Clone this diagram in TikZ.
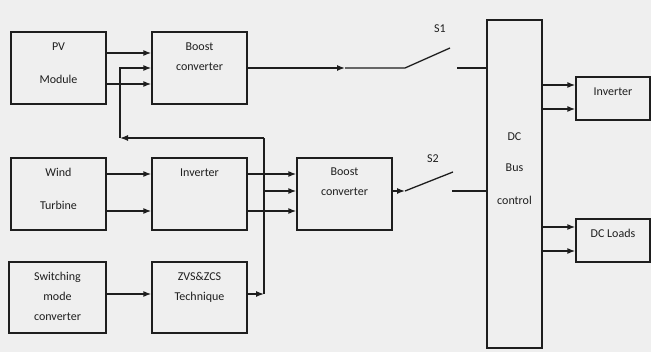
\documentclass[tikz,border=0pt]{standalone}
\usepackage{fontspec}
\setmainfont{Carlito}
\usetikzlibrary{arrows.meta, positioning}

\definecolor{bggray}{RGB}{239,239,239}
\definecolor{inkgray}{RGB}{30,30,30}

\tikzset{
  block/.style={draw=inkgray, line width=1.3pt, minimum width=95pt, minimum height=72pt, inner sep=0pt},
  txt/.style={inner sep=0pt, align=center, text=inkgray, font=\fontsize{12}{20}\selectfont},
  wire/.style={draw=inkgray, line width=1.3pt},
  flow/.style={wire, -{Latex[length=8pt,width=6pt]}}
}

\begin{document}
\begin{tikzpicture}[x=1pt, y=-1pt]
    % Background
    \fill[bggray] (0,0) rectangle (651,352);
    \useasboundingbox (0,0) rectangle (651,352);

    % Nodes
    \node[block] (pv) at (58.5,68) {};
    \node[block] (boostA) at (199.5,68) {};
    \node[block] (wind) at (58.5,194) {};
    \node[block] (invA) at (199.5,194) {};
    \node[block, minimum width=97pt, minimum height=71pt] (smc) at (57.5,297.5) {};
    \node[block, minimum height=71pt] (zvs) at (199.5,297.5) {};
    \node[block] (boostB) at (344.5,194) {};
    \node[block, minimum width=55pt, minimum height=328pt] (bus) at (514.5,184) {};
    \node[block, minimum width=74pt, minimum height=43pt] (invB) at (613,98.5) {};
    \node[block, minimum width=74pt, minimum height=43pt] (loads) at (613,240.5) {};

    % Texts
    \node[txt, below=11pt of pv.north] (pvtext) {PV\\[13pt]Module};
    \node[txt, below=11pt of boostA.north] (boostAtext) {Boost\\converter};
    \node[txt, below=11pt of wind.north] (windtext) {Wind\\[13pt]Turbine};
    \node[txt, below=11pt of invA.north] (invAtext) {Inverter};
    \node[txt, below=11pt of smc.north] (smctext) {Switching\\mode\\converter};
    \node[txt, below=11pt of zvs.north] (zvstext) {ZVS\&ZCS\\Technique};
    \node[txt, below=10.5pt of boostB.north] (boostBtext) {Boost\\converter};
    \node[txt, below=113pt of bus.north] (bustext) {DC\\[11pt]Bus\\[13pt]control};
    \node[txt, below=11pt of invB.north] (invBtext) {Inverter};
    \node[txt, below=11pt of loads.north] (loadstext) {DC Loads};
    \node[txt, anchor=base] (s1) at (440,32.5) {S1};
    \node[txt, anchor=base] (s2) at (433,162.5) {S2};

    % Switch points
    \coordinate (arrA) at (345,68);
    \coordinate (pivA) at (405,68);
    \coordinate (tipA) at (450,48);
    \coordinate (stubA) at (457,68);
    \coordinate (pivB) at (405,191);
    \coordinate (tipB) at (453,172);
    \coordinate (stubB) at (452,191);
    \coordinate (tap) at (264,294);
    \coordinate (midtap) at (264,191);
    \coordinate (fbR) at (264,138);
    \coordinate (fbL) at (120,138);

    % Edges
    \draw[flow] ([yshift=15pt]pv.east) -- ([yshift=15pt]pv.east -| boostA.west);
    \draw[flow] ([yshift=-16pt]pv.east) -- ([yshift=-16pt]pv.east -| boostA.west);
    \draw[flow] ([yshift=20pt]wind.east) -- ([yshift=20pt]invA.west);
    \draw[flow] ([yshift=-17pt]wind.east) -- ([yshift=-17pt]invA.west);
    \draw[flow] ([yshift=20pt]invA.east) -- ([yshift=20pt]boostB.west);
    \draw[flow] ([yshift=-17pt]invA.east) -- ([yshift=-17pt]boostB.west);
    \draw[flow] ([yshift=3.5pt]smc.east) -- ([yshift=3.5pt]zvs.west);
    \draw[flow] ([yshift=3.5pt]zvs.east) -- (tap);
    \draw[wire] (tap) -- (fbR);
    \draw[flow] (fbR) -- (fbL);
    \draw[flow] (fbL) |- (boostA.west);
    \draw[flow] (midtap) -- (midtap -| boostB.west);
    \draw[flow] (boostA.east) -- (arrA);
    \draw[wire] (arrA) -- (pivA) -- (tipA);
    \draw[wire] (stubA) -- (stubA -| bus.west);
    \draw[flow] ([yshift=3pt]boostB.east) -- (pivB);
    \draw[wire] (pivB) -- (tipB);
    \draw[wire] (stubB) -- (stubB -| bus.west);
    \draw[flow] ([yshift=13.5pt]invB.west -| bus.east) -- ([yshift=13.5pt]invB.west);
    \draw[flow] ([yshift=-10.5pt]invB.west -| bus.east) -- ([yshift=-10.5pt]invB.west);
    \draw[flow] ([yshift=13.5pt]loads.west -| bus.east) -- ([yshift=13.5pt]loads.west);
    \draw[flow] ([yshift=-10.5pt]loads.west -| bus.east) -- ([yshift=-10.5pt]loads.west);
\end{tikzpicture}
\end{document}
